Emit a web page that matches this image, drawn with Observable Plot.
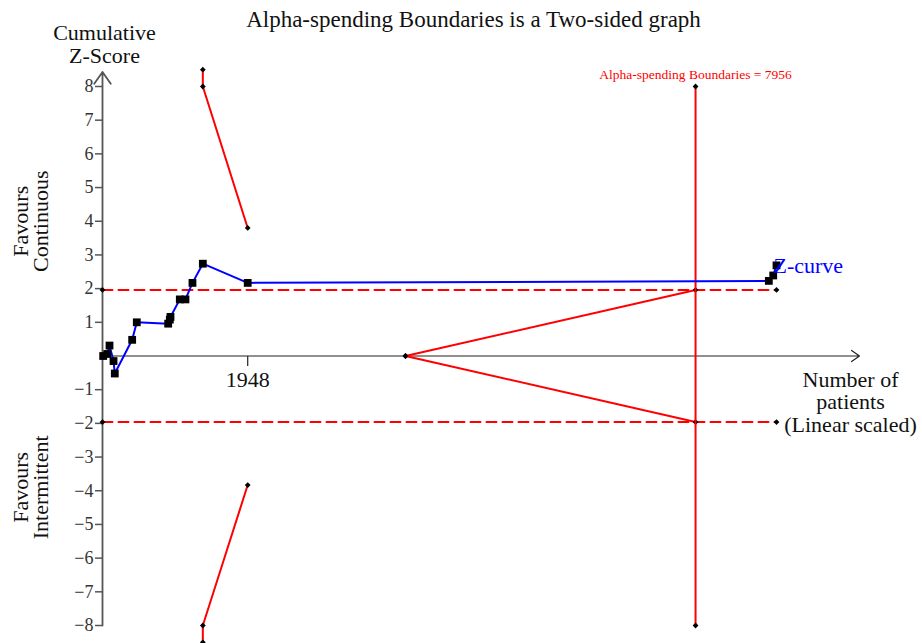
<!DOCTYPE html>
<html>
<head>
<meta charset="utf-8">
<script src="https://cdn.jsdelivr.net/npm/d3@7"></script>
<script src="https://cdn.jsdelivr.net/npm/@observablehq/plot@0.6"></script>
<style>
  html, body { margin: 0; padding: 0; background: #fff; }
  #chart svg { display: block; font-family: "Liberation Serif", "Times New Roman", serif !important; }
  #chart svg text { font-family: "Liberation Serif", "Times New Roman", serif !important; }
</style>
</head>
<body>
<div id="chart"></div>
<script>
// ---- Data ----
const title = "Alpha-spending Boundaries is a Two-sided graph";
const zPatients = [9, 63, 94, 148, 165, 398, 460, 881, 903, 912, 1037, 1113, 1207, 1346, 1948, 8939, 8998, 9042];
const zScores   = [0.0, 0.06, 0.31, -0.15, -0.52, 0.48, 1.0, 0.96, 1.08, 1.16, 1.68, 1.68, 2.17, 2.74, 2.17, 2.23, 2.39, 2.69];
const boundPatients = [1346, 1346, 1948];
const upperBound    = [8.5, 8.0, 3.8];
const lowerBound    = [-8.5, -8.0, -3.83];
const wedgePatients = [4065, 7956];
const wedgeUpper    = [0, 1.96];
const wedgeLower    = [0, -1.96];
const convPatients  = [0, 9042];
const convZ         = 1.96;
const requiredN     = 7956;
const requiredRange = [-8, 8];
const yTicks = [-8, -7, -6, -5, -4, -3, -2, -1, 1, 2, 3, 4, 5, 6, 7, 8];
const xTicks = [1948];

// ---- Tables ----
const zCurve = zPatients.map((n, i) => ({n, z: zScores[i]}));
const upper = boundPatients.map((n, i) => ({n, z: upperBound[i]}));
const lower = boundPatients.map((n, i) => ({n, z: lowerBound[i]}));
const wU = wedgePatients.map((n, i) => ({n, z: wedgeUpper[i]}));
const wL = wedgePatients.map((n, i) => ({n, z: wedgeLower[i]}));
const convU = convPatients.map(n => ({n, z: convZ}));
const convL = convPatients.map(n => ({n, z: -convZ}));
const reqLine = requiredRange.map(z => ({n: requiredN, z}));

const serif = "Liberation Serif, Times New Roman, serif";
const tickDown = {draw(ctx) { ctx.moveTo(0, 0); ctx.lineTo(0, 10); }};

const plot = Plot.plot({
  width: 922,
  height: 643,
  marginLeft: 102,
  marginRight: 64,
  marginTop: 86,
  marginBottom: 18,
  style: {fontFamily: serif, background: "#fff"},
  x: {domain: [0, 10142], axis: null},
  y: {domain: [-8, 8], axis: null},
  marks: [
    // axes
    Plot.axisY(yTicks, {anchor: "left", tickSize: 7, tickPadding: 2, fontSize: 18, fontFamily: serif, stroke: "#555", fill: "#333", strokeWidth: 1.5, label: null}),
    Plot.arrow([0], {x1: 0, x2: 0, y1: -8, y2: 8.43, stroke: "#555", strokeWidth: 1.8, headLength: 12, headAngle: 70}),
    Plot.arrow([0], {x1: 0, x2: 10155, y1: 0, y2: 0, stroke: "#222", strokeWidth: 1.2, headLength: 12, headAngle: 70}),
    Plot.dot(xTicks, {x: d => d, y: 0, symbol: tickDown, stroke: "#222", strokeWidth: 1.2, r: 5}),
    Plot.text(xTicks, {x: d => d, y: 0, dy: 24, text: d => String(d), fontSize: 22, fontFamily: serif, fill: "#111"}),
    // conventional boundaries (dashed)
    Plot.line(convU, {x: "n", y: "z", stroke: "#ff0000", strokeWidth: 2, strokeDasharray: "10,6"}),
    Plot.line(convL, {x: "n", y: "z", stroke: "#ff0000", strokeWidth: 2, strokeDasharray: "10,6"}),
    Plot.dot(convU.concat(convL), {x: "n", y: "z", symbol: "diamond2", r: 2.6, fill: "#000"}),
    // alpha-spending boundaries
    Plot.line(upper, {x: "n", y: "z", stroke: "#ff0000", strokeWidth: 2}),
    Plot.line(lower, {x: "n", y: "z", stroke: "#ff0000", strokeWidth: 2}),
    Plot.dot(upper.concat(lower), {x: "n", y: "z", symbol: "diamond2", r: 2.6, fill: "#000"}),
    // inner wedge
    Plot.line(wU, {x: "n", y: "z", stroke: "#ff0000", strokeWidth: 2}),
    Plot.line(wL, {x: "n", y: "z", stroke: "#ff0000", strokeWidth: 2}),
    Plot.dot(wU.concat(wL), {x: "n", y: "z", symbol: "diamond2", r: 2.6, fill: "#000"}),
    // required information size
    Plot.line(reqLine, {x: "n", y: "z", stroke: "#ff0000", strokeWidth: 2}),
    Plot.dot(reqLine, {x: "n", y: "z", symbol: "diamond2", r: 2.6, fill: "#000"}),
    Plot.text([`Alpha-spending Boundaries = ${requiredN}`], {x: requiredN, y: 8, dy: -12, fontSize: 13.5, fontFamily: serif, fill: "#ff0000"}),
    // Z-curve
    Plot.line(zCurve, {x: "n", y: "z", stroke: "#0000ff", strokeWidth: 2}),
    Plot.dot(zCurve, {x: "n", y: "z", symbol: "square", r: 4.4, fill: "#000"}),
    Plot.text(["Z-curve"], {x: zPatients[zPatients.length - 1], y: zScores[zScores.length - 1], dx: -3, dy: 1, textAnchor: "start", fontSize: 22, fontFamily: serif, fill: "#0000ff"}),
    // labels
    Plot.text([title], {frameAnchor: "top", dx: -7, dy: -76, fontSize: 23, fontFamily: serif, fill: "#111"}),
    Plot.text(["Cumulative\nZ-Score"], {frameAnchor: "top-left", dx: 2, dy: -62, lineHeight: 1.02, fontSize: 22, fontFamily: serif, fill: "#111", textAnchor: "middle"}),
    Plot.text(["Number of\npatients\n(Linear scaled)"], {x: 10142, y: 0, dx: -8, dy: 46, lineHeight: 1.03, lineAnchor: "middle", fontSize: 22, fontFamily: serif, fill: "#111", textAnchor: "middle"}),
    Plot.text(["Favours\nContinuous"], {x: 0, y: 4, dx: -71, rotate: -90, lineHeight: 0.92, fontSize: 22, fontFamily: serif, fill: "#111"}),
    Plot.text(["Favours\nIntermittent"], {x: 0, y: -3.9, dx: -71, rotate: -90, lineHeight: 0.92, fontSize: 22, fontFamily: serif, fill: "#111"})
  ]
});
document.getElementById("chart").appendChild(plot);
</script>
</body>
</html>
